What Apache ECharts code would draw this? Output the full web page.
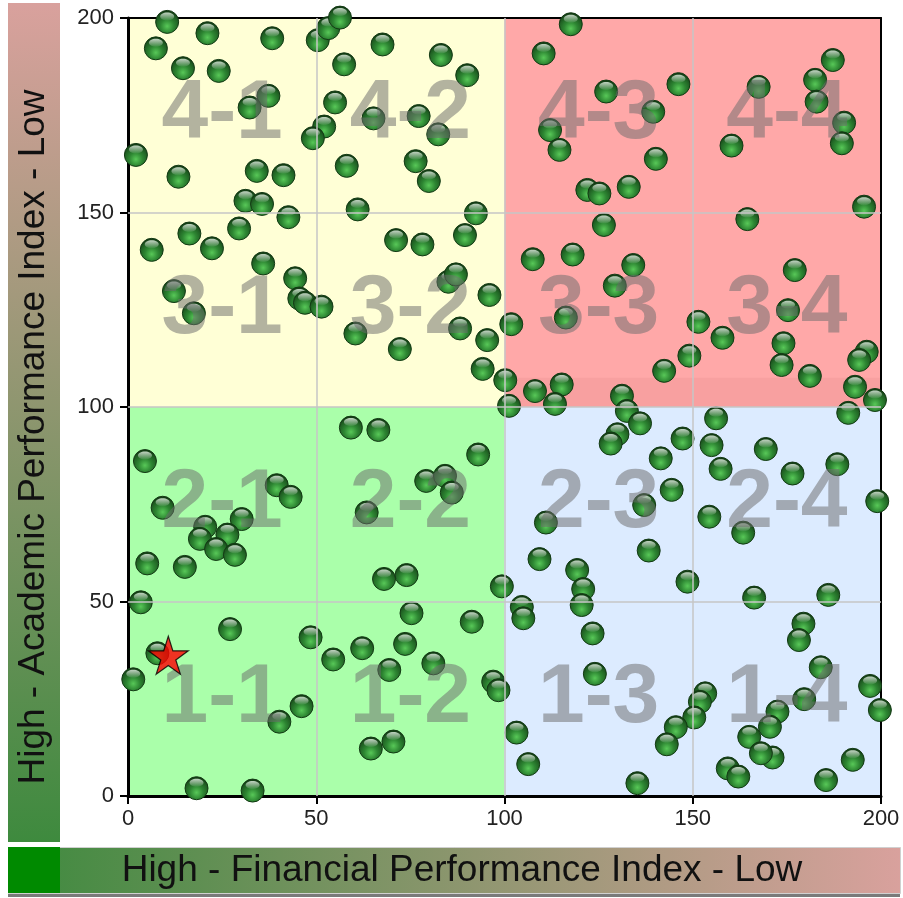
<!DOCTYPE html>
<html><head><meta charset="utf-8">
<script src="https://cdn.jsdelivr.net/npm/echarts@6/dist/echarts.min.js"></script>
<style>html,body{margin:0;padding:0;background:#fff}#c{width:903px;height:898px}</style>
</head><body><div id="c"></div>
<script>
// ---- data ----
const xTicks = [0, 50, 100, 150, 200];
const yTicks = [0, 50, 100, 150, 200];
const gridValues = [50, 100, 150];
const cellCentersX = [25, 75, 125, 175];
const cellCentersY = [25, 75, 125, 175];
const cellRowNames = ['1', '2', '3', '4'];
const cellColNames = ['1', '2', '3', '4'];
const xTitle = 'High - Financial Performance Index - Low';
const yTitle = 'High - Academic Performance Index - Low';
// quadrant bounds: [x0, x1, y0, y1]
const quadTopLeft = [0, 100, 100, 200];
const quadTopRight = [100, 200, 100, 200];
const quadBottomLeft = [0, 100, 0, 100];
const quadBottomRight = [100, 200, 0, 100];
const bandTopRight = [100, 200, 100, 107.5];
const highlightPoint = [[10.7, 36.2]];
const schools = [
 [10.4,199.0],[21.1,196.1],[38.3,194.8],[7.4,192.2],[50.4,194.3],[53.2,197.4],[56.3,200.1],[67.6,193.2],[83.1,190.5],[14.6,187.1],
 [24.1,186.4],[57.4,188.1],[90.1,185.3],[37.3,180.0],[32.3,177.0],[55.0,178.3],[65.2,174.2],[77.2,174.8],[52.1,172.1],[49.1,169.1],
 [82.4,170.1],[2.1,164.8],[58.1,162.0],[76.4,163.2],[13.4,159.2],[34.2,160.7],[41.3,159.6],[79.9,158.1],[31.2,153.0],[35.6,152.2],
 [42.6,148.8],[61.0,150.8],[92.4,149.8],
 [117.6,198.4],[110.4,190.9],[127.0,181.1],[146.2,183.0],[139.5,175.9],[112.1,171.2],[114.6,166.1],[140.2,163.8],[122.0,155.8],[125.2,154.9],
 [133.0,156.6],[187.2,189.2],[182.5,184.1],[167.5,182.3],[182.9,178.5],[190.2,173.1],[189.6,167.8],[160.3,167.2],[195.5,151.5],[164.5,148.3],
 [126.4,146.8],
 [6.3,140.4],[16.3,144.6],[22.3,140.8],[29.5,145.9],[35.9,136.9],[12.2,129.8],[17.5,124.1],[44.4,133.1],[45.5,127.9],[47.0,126.8],
 [51.4,125.8],[71.2,142.9],[78.2,141.8],[89.5,144.2],[85.1,132.2],[87.1,134.1],[96.0,128.8],[60.4,118.9],[72.2,114.9],[88.2,120.2],
 [95.4,117.2],[101.8,121.3],[94.2,109.8],[100.2,106.9],[101.2,100.3],
 [107.5,138.0],[118.1,139.2],[134.2,136.5],[129.3,131.2],[116.3,123.0],[151.5,121.9],[157.9,117.8],[149.1,113.2],[142.4,109.3],[177.1,135.2],
 [175.3,124.9],[174.1,116.4],[173.6,110.8],[181.1,108.0],[196.2,114.2],[194.2,112.1],[193.1,105.2],[198.4,101.8],[191.3,98.5],[108.1,104.1],
 [115.2,105.8],[113.4,100.8],[131.2,102.9],[132.5,99.0],
 [136.0,95.8],[130.0,93.0],[128.2,90.6],[147.3,91.9],[156.2,97.1],[155.0,90.2],[141.5,86.8],[157.4,84.1],[169.4,89.2],[176.5,82.9],
 [188.4,85.3],[144.4,78.7],[137.1,74.8],[199.0,75.8],[111.0,70.3],[154.4,71.8],[163.4,67.7],[109.3,60.9],[138.3,63.1],[119.3,58.1],
 [120.9,53.2],[120.5,49.1],[148.6,55.1],[99.3,53.9],[104.6,48.6],[105.0,45.7],[166.3,51.0],[186.0,51.7],[179.4,44.3],
 [123.4,41.8],[124.0,31.4],[103.2,16.3],[106.3,8.2],[135.3,3.3],[153.3,26.4],[151.9,24.2],[150.4,20.2],[145.5,17.7],[143.1,13.3],
 [178.2,40.1],[184.0,33.1],[197.1,28.3],[199.7,22.1],[179.6,24.9],[172.5,21.7],[170.5,17.8],[165.0,15.2],[171.2,9.9],[168.1,11.0],
 [159.3,7.1],[162.1,5.0],[192.5,9.3],[185.4,4.1],
 [59.2,94.7],[66.5,94.1],[93.0,87.8],[4.5,86.1],[39.5,79.9],[43.2,76.9],[79.2,81.0],[84.2,82.3],[86.0,78.0],[9.2,74.1],
 [63.4,72.9],[30.2,71.2],[20.5,69.2],[26.4,67.2],[19.1,66.1],[23.4,63.5],[28.4,62.0],[5.1,59.8],[15.1,58.9],[68.0,55.8],
 [74.0,56.8],[3.4,49.8],[75.3,47.0],[91.3,44.8],
 [27.1,42.9],[48.5,40.8],[7.8,36.7],[1.4,30.0],[54.5,35.1],[62.2,38.0],[73.6,39.1],[69.4,32.4],[81.1,34.1],[97.0,29.4],
 [98.4,27.2],[46.1,23.1],[40.2,19.1],[70.5,14.0],[64.5,12.2],[18.2,2.0],[33.1,1.4]
];

// ---- build ----
const FONT = "'Liberation Sans', Arial, sans-serif";
function area(b, color) {
  return [{ xAxis: b[0], yAxis: b[2], itemStyle: { color: color } }, { xAxis: b[1], yAxis: b[3] }];
}
const cellData = [];
cellCentersY.forEach((cy, r) => cellCentersX.forEach((cx, c) => {
  cellData.push({ name: cellRowNames[r] + '-' + cellColNames[c], value: [cx, cy] });
}));
const gridLineData = gridValues.map(v => ({ xAxis: v })).concat(gridValues.map(v => ({ yAxis: v })));

const sphereFill = {
  type: 'radial', x: 0.5, y: 0.68, r: 0.62,
  colorStops: [
    { offset: 0, color: '#58c858' },
    { offset: 0.45, color: '#2d8632' },
    { offset: 0.85, color: '#1d5820' },
    { offset: 1, color: '#133b14' }
  ]
};
const shineFill = {
  type: 'linear', x: 0, y: 0, x2: 0, y2: 1,
  colorStops: [
    { offset: 0, color: 'rgba(235,245,235,0.8)' },
    { offset: 1, color: 'rgba(255,255,255,0.05)' }
  ]
};

const chart = echarts.init(document.getElementById('c'), null, { renderer: 'canvas' });
const axisCommon = { min: 0, max: 200, interval: 50, z: 2 };
chart.setOption({
  animation: false,
  backgroundColor: '#ffffff',
  grid: { left: 128, right: 22, top: 18, bottom: 102 },
  xAxis: [
    Object.assign({}, axisCommon, {
      type: 'value', position: 'bottom',
      axisLine: { show: true, onZero: false, lineStyle: { color: '#000', width: 3 } },
      axisTick: { show: true, length: 8, lineStyle: { color: '#000', width: 2 } },
      axisLabel: { fontFamily: FONT, fontSize: 22, color: '#222', margin: 12,
        formatter: v => xTicks.indexOf(v) >= 0 ? String(v) : '' },
      splitLine: { show: false }
    }),
    Object.assign({}, axisCommon, {
      type: 'value', position: 'top',
      axisLine: { show: true, onZero: false, lineStyle: { color: '#000', width: 2 } },
      axisTick: { show: false }, axisLabel: { show: false }, splitLine: { show: false }
    })
  ],
  yAxis: [
    Object.assign({}, axisCommon, {
      type: 'value', position: 'left',
      axisLine: { show: true, onZero: false, lineStyle: { color: '#000', width: 3 } },
      axisTick: { show: true, length: 8, lineStyle: { color: '#000', width: 2 } },
      axisLabel: { fontFamily: FONT, fontSize: 22, color: '#222', margin: 14,
        formatter: v => yTicks.indexOf(v) >= 0 ? String(v) : '' },
      splitLine: { show: false }
    }),
    Object.assign({}, axisCommon, {
      type: 'value', position: 'right',
      axisLine: { show: true, onZero: false, lineStyle: { color: '#000', width: 2 } },
      axisTick: { show: false }, axisLabel: { show: false }, splitLine: { show: false }
    })
  ],
  series: [
    {
      type: 'scatter', z: 1, silent: true, symbolSize: 0, data: [[0, 0]],
      markArea: {
        silent: true,
        data: [
          area(quadTopLeft, '#ffffd6'),
          area(quadTopRight, '#ffa8a8'),
          area(quadBottomLeft, '#aaffaa'),
          area(quadBottomRight, '#dcebff'),
          area(bandTopRight, 'rgba(150,50,60,0.07)')
        ]
      }
    },
    {
      type: 'scatter', z: 1.5, silent: true, symbolSize: 0, data: [[0, 0]],
      markLine: {
        silent: true, symbol: 'none', label: { show: false },
        lineStyle: { color: '#c6c6c6', width: 1.5, type: 'solid' },
        data: gridLineData
      }
    },
    {
      type: 'custom', z: 3, silent: true, clip: false,
      data: schools,
      renderItem: function (params, api) {
        const p = api.coord([api.value(0), api.value(1)]);
        return {
          type: 'group',
          children: [
            { type: 'circle', shape: { cx: p[0], cy: p[1], r: 11.5 },
              style: { fill: sphereFill, stroke: '#133a14', lineWidth: 1 } },
            { type: 'ellipse', shape: { cx: p[0], cy: p[1] - 5.5, rx: 7, ry: 4 },
              style: { fill: shineFill } }
          ]
        };
      }
    },
    {
      type: 'scatter', z: 5, silent: true, symbolSize: 2,
      itemStyle: { color: 'rgba(0,0,0,0)' },
      data: cellData,
      label: {
        show: true, position: 'inside', offset: [0, -12],
        formatter: p => p.name,
        fontFamily: FONT, fontSize: 84, fontWeight: 'bold',
        color: 'rgba(110,110,110,0.65)'
      },
      labelLayout: { hideOverlap: false },
      emphasis: { disabled: true }
    },
    {
      type: 'scatter', z: 6, silent: true, clip: false,
      symbol: 'path://M50,0 L61,35 L98,35 L68,57 L79,91 L50,70 L21,91 L32,57 L2,35 L39,35 Z',
      symbolSize: [40, 38],
      itemStyle: { color: '#ff0000', borderColor: '#000', borderWidth: 1.2 },
      data: highlightPoint
    }
  ],
  graphic: [
    { type: 'rect', left: 8, top: 3, z: 0, silent: true,
      shape: { width: 52, height: 839 },
      style: { fill: { type: 'linear', x: 0, y: 0, x2: 0, y2: 1,
        colorStops: [{ offset: 0, color: '#d9a19d' }, { offset: 1, color: '#3e8a3e' }] } } },
    { type: 'rect', left: 8, top: 847, z: 0, silent: true,
      shape: { width: 892, height: 46 },
      style: { fill: { type: 'linear', x: 0, y: 0, x2: 1, y2: 0,
        colorStops: [{ offset: 0, color: '#3e8a3e' }, { offset: 1, color: '#d9a19d' }] },
        stroke: '#d0d0d0', lineWidth: 1 } },
    { type: 'rect', left: 8, top: 847, z: 1, silent: true,
      shape: { width: 52, height: 46 }, style: { fill: '#008a00' } },
    { type: 'rect', left: 8, top: 894, z: 1, silent: true,
      shape: { width: 892, height: 3 }, style: { fill: '#7a7a7a' } },
    { type: 'text', x: 462, y: 871, z: 2, silent: true,
      style: { text: xTitle, fontFamily: FONT, fontSize: 37, fill: '#111',
        align: 'center', verticalAlign: 'middle' } },
    { type: 'text', x: 34, y: 437, rotation: Math.PI / 2, z: 2, silent: true,
      style: { text: yTitle, fontFamily: FONT, fontSize: 37, fill: '#111',
        align: 'center', verticalAlign: 'middle' } }
  ]
});
</script>
</body></html>
